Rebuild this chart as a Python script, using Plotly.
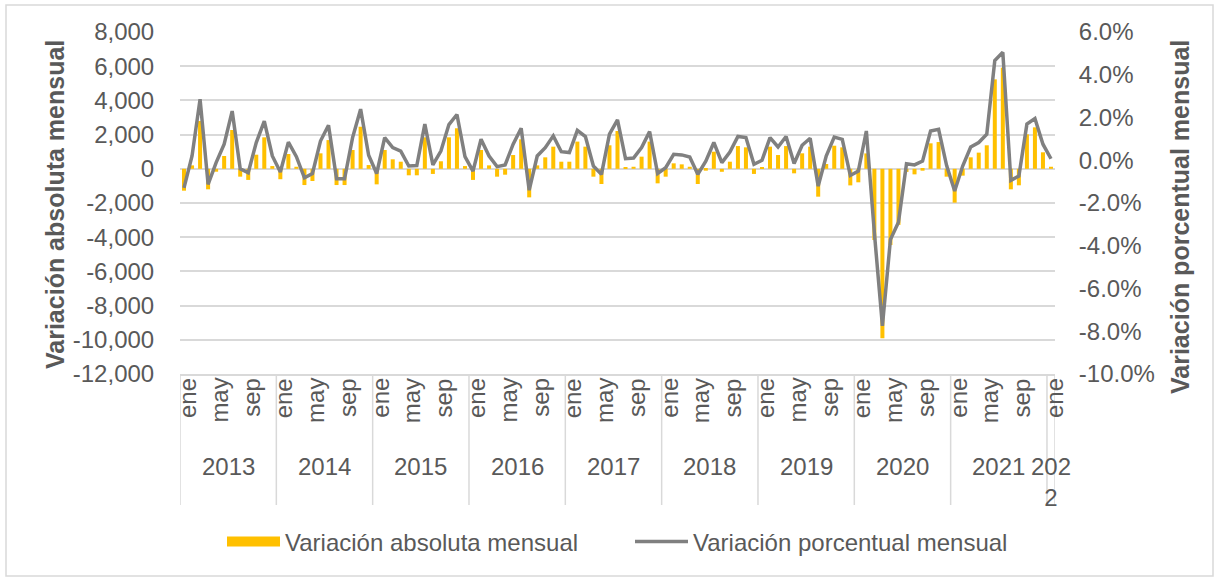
"""
Variación mensual: barras (absoluta) y línea (porcentual), ene 2013 - ene 2022.
"""

import plotly.graph_objects as go

MONTHS = ["ene", "feb", "mar", "abr", "may", "jun",
          "jul", "ago", "sep", "oct", "nov", "dic"]
YEARS = [2013, 2014, 2015, 2016, 2017, 2018, 2019, 2020, 2021, 2022]
SHOWN_MONTHS = ["ene", "may", "sep"]

# variación absoluta mensual, ene-2013 .. ene-2022
abs_2013 = [-1280, 200, 2795, -1200, -170, 750, 2270, -460, -650, 825, 1840, 160]
abs_2014 = [-610, 865, 120, -950, -715, 905, 1680, -950, -950, 1100, 2460, 220]
abs_2015 = [-910, 1100, 555, 415, -380, -380, 1840, -300, 440, 1840, 2370, 160]
abs_2016 = [-650, 1100, 200, -460, -345, 805, 1725, -1670, 200, 670, 1295, 415]
abs_2017 = [415, 1590, 1295, -460, -890, 1375, 2210, 85, 120, 710, 1590, -850]
abs_2018 = [-460, 320, 260, 120, -890, -110, 1000, -175, 415, 1330, 1255, -300]
abs_2019 = [100, 1295, 805, 1330, -265, 905, 1295, -1630, 280, 1350, 1255, -970]
abs_2020 = [-790, 900, -4165, -9910, -4455, -3280, -180, -325, -110, 1490, 1565, -460]
abs_2021 = [-1980, -400, 670, 945, 1375, 5230, 5915, -1200, -965, 2015, 2425, 965]
abs_2022 = [120]

# variación porcentual mensual (%)
pct_2013 = [-1.29, 0.20, 2.86, -1.13, -0.11, 0.75, 2.30, -0.40, -0.58, 0.83, 1.83, 0.20]
pct_2014 = [-0.55, 0.85, 0.17, -0.82, -0.62, 0.90, 1.64, -0.87, -0.87, 1.06, 2.39, 0.23]
pct_2015 = [-0.62, 1.06, 0.59, 0.43, -0.27, -0.25, 1.69, -0.22, 0.43, 1.67, 2.14, 0.17]
pct_2016 = [-0.51, 0.98, 0.20, -0.30, -0.22, 0.75, 1.50, -1.40, 0.20, 0.59, 1.14, 0.40]
pct_2017 = [0.36, 1.40, 1.11, -0.27, -0.66, 1.22, 1.89, 0.07, 0.10, 0.59, 1.34, -0.62]
pct_2018 = [-0.35, 0.28, 0.25, 0.15, -0.66, -0.04, 0.83, -0.11, 0.38, 1.11, 1.06, -0.19]
pct_2019 = [0.00, 1.06, 0.62, 1.11, -0.15, 0.70, 1.03, -1.21, 0.20, 1.08, 0.98, -0.71]
pct_2020 = [-0.51, 1.37, -3.40, -7.75, -3.71, -2.90, -0.16, -0.22, -0.04, 1.37, 1.45, -0.25]
pct_2021 = [-1.44, -0.27, 0.62, 0.83, 1.22, 4.66, 5.05, -0.94, -0.74, 1.69, 1.95, 0.75]
pct_2022 = [0.07]

LEFT_TICKS = [8000, 6000, 4000, 2000, 0, -2000, -4000, -6000, -8000, -10000, -12000]
RIGHT_TICKS = [6.0, 4.0, 2.0, 0.0, -2.0, -4.0, -6.0, -8.0, -10.0]

abs_vals = (abs_2013 + abs_2014 + abs_2015 + abs_2016 + abs_2017
            + abs_2018 + abs_2019 + abs_2020 + abs_2021 + abs_2022)
pct_vals = (pct_2013 + pct_2014 + pct_2015 + pct_2016 + pct_2017
            + pct_2018 + pct_2019 + pct_2020 + pct_2021 + pct_2022)
n = len(abs_vals)
x = list(range(n))
year_of = [YEARS[i // 12] for i in x]
month_of = [MONTHS[i % 12] for i in x]

# figure geometry (pixels)
W, H = 1220, 580
L, R, T, B = 180, 165, 32, 206
PW, PH = W - L - R, H - T - B

def px_x(p):
    return (p - L) / PW

def px_y(p):
    return (H - B - p) / PH

FONT = "Liberation Sans, Arial, sans-serif"
TXT = "#595959"
GRID = "#D9D9D9"
GOLD = "#FFC000"

fig = go.Figure()
fig.add_trace(go.Bar(
    x=x, y=abs_vals,
    name="Variación absoluta mensual",
    marker=dict(color=GOLD, line=dict(width=0)),
    showlegend=False,
    yaxis="y",
))
# wide legend swatch for the bars, like Excel
fig.add_trace(go.Scatter(
    x=[None], y=[None], mode="lines",
    name="Variación absoluta mensual",
    line=dict(color=GOLD, width=13),
    hoverinfo="skip",
    legend="legend",
))
fig.add_trace(go.Scatter(
    x=x, y=pct_vals,
    mode="lines",
    name="Variación porcentual mensual",
    line=dict(color="#808080", width=3.5),
    yaxis="y2",
    legend="legend2",
))

shapes = []
# year dividers below the plot
bounds = [i - 0.5 for i in x if month_of[i] == "ene"] + [n - 0.5]
for b in bounds:
    shapes.append(dict(type="line", xref="x", yref="paper",
                       x0=b, x1=b, y0=0, y1=px_y(505),
                       line=dict(color=GRID, width=1.5)))
# outer chart border
shapes.append(dict(type="rect", xref="paper", yref="paper",
                   x0=px_x(6), x1=px_x(1213), y0=px_y(576), y1=px_y(5),
                   line=dict(color=GRID, width=1.5), fillcolor="rgba(0,0,0,0)",
                   layer="below"))

annotations = []
# month labels (rotated), first level of the category axis
for i in x:
    if month_of[i] in SHOWN_MONTHS:
        annotations.append(dict(x=i, y=px_y(376), xref="x", yref="paper",
                                text=month_of[i], textangle=-90, showarrow=False,
                                xanchor="center", yanchor="top", xshift=3,
                                font=dict(size=24, color=TXT, family=FONT)))
# year labels, second level
for yr in YEARS:
    idx = [i for i in x if year_of[i] == yr]
    label = str(yr) if len(idx) > 1 else str(yr)[:3] + "<br>" + str(yr)[3:]
    annotations.append(dict(x=sum(idx) / len(idx), y=px_y(451), xref="x", yref="paper",
                            text=label, showarrow=False, yanchor="top", xanchor="center",
                            font=dict(size=24, color=TXT, family=FONT)))
annotations.append(dict(x=px_x(55), y=px_y(205), xref="paper", yref="paper",
                        text="<b>Variación absoluta mensual</b>", textangle=-90,
                        xanchor="center", yanchor="middle",
                        showarrow=False, font=dict(size=25, color=TXT, family=FONT)))
annotations.append(dict(x=px_x(1180), y=px_y(217), xref="paper", yref="paper",
                        text="<b>Variación porcentual mensual</b>", textangle=-90,
                        xanchor="center", yanchor="middle",
                        showarrow=False, font=dict(size=25, color=TXT, family=FONT)))

LEGEND_STYLE = dict(orientation="h", xanchor="left", y=px_y(542), yanchor="middle",
                    font=dict(size=24, color=TXT), itemwidth=53,
                    bgcolor="rgba(0,0,0,0)")

fig.update_layout(
    width=W, height=H,
    margin=dict(l=L, r=R, t=T, b=B, autoexpand=False),
    paper_bgcolor="white", plot_bgcolor="white",
    font=dict(family=FONT, size=24, color=TXT),
    bargap=0.5,
    showlegend=True,
    legend=dict(x=px_x(222), **LEGEND_STYLE),
    legend2=dict(x=px_x(630), **LEGEND_STYLE),
    xaxis=dict(
        range=[-0.5, n - 0.5],
        showticklabels=False, ticks="",
        showgrid=False, zeroline=False,
        showline=True, linecolor=GRID, linewidth=1.5,
    ),
    yaxis=dict(
        range=[-12000, 8000],
        tickmode="array", tickvals=LEFT_TICKS, ticktext=[f"{v:,}" for v in LEFT_TICKS],
        ticks="outside", ticklen=20, tickcolor="rgba(0,0,0,0)",
        showgrid=True, gridcolor=GRID, gridwidth=2, zeroline=False,
        tickfont=dict(size=24, color=TXT), automargin=False,
    ),
    yaxis2=dict(
        range=[-10, 6], overlaying="y", side="right",
        tickmode="array", tickvals=RIGHT_TICKS, ticktext=[f"{v:.1f}%" for v in RIGHT_TICKS],
        ticks="outside", ticklen=18, tickcolor="rgba(0,0,0,0)",
        showgrid=False, zeroline=False,
        tickfont=dict(size=24, color=TXT), automargin=False,
    ),
    shapes=shapes,
    annotations=annotations,
)

# drop the browser's default page margin so the figure sits at (0, 0)
fig.write_html("out.html", config={"displayModeBar": False},
               post_script="document.body.style.margin = '0';")
